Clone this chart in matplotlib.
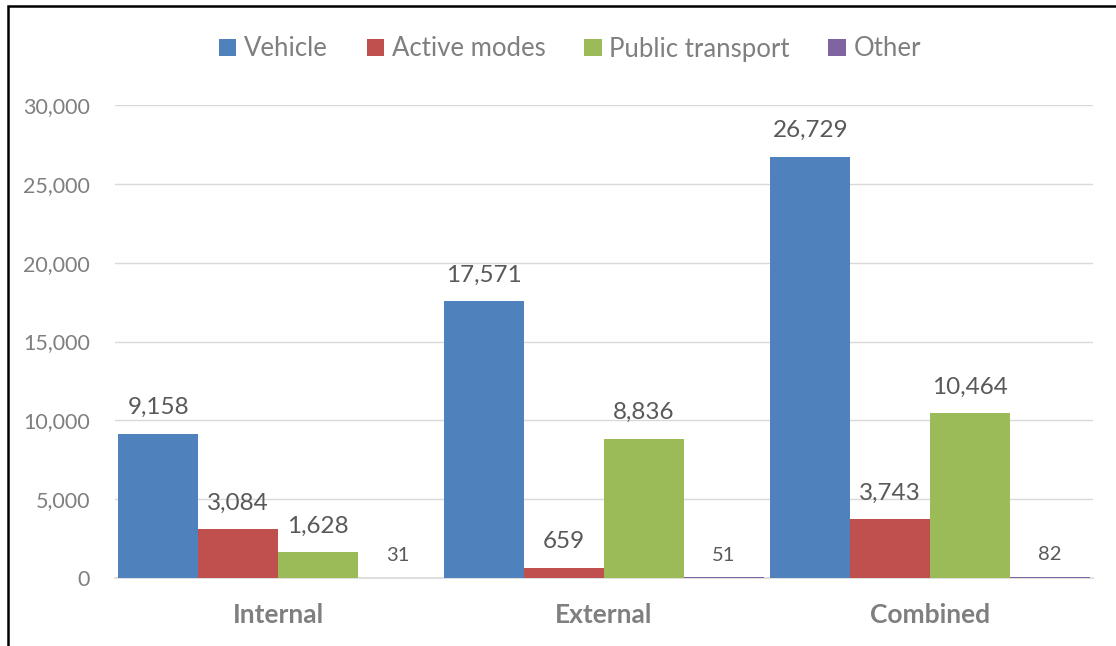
import matplotlib
matplotlib.use("Agg")
import matplotlib.pyplot as plt
import numpy as np
from matplotlib.patches import Rectangle
from matplotlib.ticker import FuncFormatter

categories = ["Internal", "External", "Combined"]
series_names = ["Vehicle", "Active modes", "Public transport", "Other"]
vehicle = [9158, 17571, 26729]
active_modes = [3084, 659, 3743]
public_transport = [1628, 8836, 10464]
other = [31, 51, 82]
colors = ["#4F81BD", "#C0504D", "#9BBB59", "#8064A2"]

plt.rcParams['font.family'] = ['Lato', 'DejaVu Sans']
TXT = "#595959"
LIGHT = "#7F7F7F"

fig = plt.figure(figsize=(11.16, 6.46), dpi=100)
ax = fig.add_axes([115/1116, 1 - 578/646, (1093 - 115)/1116, (578 - 105)/646])

x = np.arange(len(categories))
bw = 0.245
all_series = [vehicle, active_modes, public_transport, other]
for i, (vals, name, c) in enumerate(zip(all_series, series_names, colors)):
    pos = x + (i - 1.5) * bw
    bars = ax.bar(pos, vals, width=bw, color=c, label=name, zorder=3)
    fs = 14.5 if i == 3 else 17.5
    off = 12 if i == 3 else 14
    for b, v in zip(bars, vals):
        ax.annotate(f"{v:,}", (b.get_x() + b.get_width() / 2, v),
                    xytext=(0, off), textcoords="offset points",
                    ha="center", va="baseline", fontsize=fs, color=TXT)

ax.set_xlim(-0.5, 2.5)
ax.set_ylim(0, 30000)
ax.set_yticks(np.arange(0, 30001, 5000))
ax.yaxis.set_major_formatter(FuncFormatter(lambda v, p: f"{int(v):,}"))
ax.grid(axis="y", color="#D9D9D9", linewidth=1, zorder=0)
ax.set_axisbelow(True)
for s in ["top", "right", "left"]:
    ax.spines[s].set_visible(False)
ax.spines["bottom"].set_color("#D9D9D9")
ax.spines["bottom"].set_linewidth(1.2)
ax.tick_params(axis="both", length=0, colors=LIGHT)
ax.tick_params(axis="y", labelsize=15.5, pad=18)
ax.set_xticks(x)
ax.set_xticklabels(categories, fontsize=19, fontweight="bold", color=LIGHT)
ax.tick_params(axis="x", pad=18)

leg = fig.legend(loc="center", bbox_to_anchor=(570/1116, 1 - 49/646), ncol=4,
                 frameon=False, fontsize=18.5, handlelength=0.68, handleheight=0.68,
                 handletextpad=0.3, columnspacing=1.5)
for t in leg.get_texts():
    t.set_color(LIGHT)

fig.patches.append(Rectangle((8/1116, -0.1), 1.2, 1 - 6/646 + 0.1,
                             transform=fig.transFigure, fill=False,
                             edgecolor="black", linewidth=1.8))

fig.savefig("out.png", dpi=100)
